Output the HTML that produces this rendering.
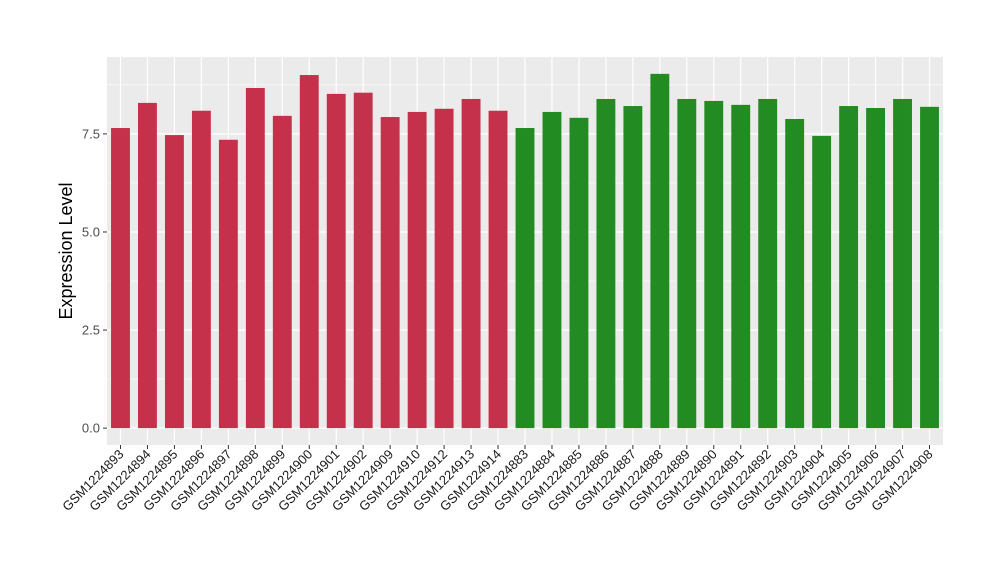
<!DOCTYPE html>
<html><head><meta charset="utf-8"><style>body{margin:0;background:#fff}svg{display:block;font-family:"Liberation Sans",sans-serif}</style></head>
<body>
<svg id="chart" width="1000" height="580"></svg>
<script>
const categories=["GSM1224893","GSM1224894","GSM1224895","GSM1224896","GSM1224897","GSM1224898","GSM1224899","GSM1224900","GSM1224901","GSM1224902","GSM1224909","GSM1224910","GSM1224912","GSM1224913","GSM1224914","GSM1224883","GSM1224884","GSM1224885","GSM1224886","GSM1224887","GSM1224888","GSM1224889","GSM1224890","GSM1224891","GSM1224892","GSM1224903","GSM1224904","GSM1224905","GSM1224906","GSM1224907","GSM1224908"];
const values=[7.65,8.29,7.47,8.09,7.35,8.67,7.96,9.0,8.52,8.55,7.93,8.06,8.14,8.39,8.09,7.65,8.06,7.91,8.39,8.21,9.03,8.39,8.34,8.24,8.39,7.88,7.45,8.21,8.16,8.39,8.19];
const groups=[0,0,0,0,0,0,0,0,0,0,0,0,0,0,0,1,1,1,1,1,1,1,1,1,1,1,1,1,1,1,1];
const yTicks=[0,2.5,5,7.5];
const yTickLabels=["0.0","2.5","5.0","7.5"];
const colors=["#C5304A","#228B22"];
const svg=document.getElementById('chart');
const NS="http://www.w3.org/2000/svg";
const PL=107,PR=943,PT=57,PB=445;
const yMin=-0.43,yMax=9.46;
const y=v=>PB-(v-yMin)/(yMax-yMin)*(PB-PT);
const step=(PR-PL)/categories.length;
const x=i=>PL+step*(i+0.5);
const bw=step*0.7;
function mk(t,a){const e=document.createElementNS(NS,t);for(const k in a)e.setAttribute(k,a[k]);svg.appendChild(e);return e;}
const panel=mk('rect',{x:PL,y:PT,width:PR-PL,height:PB-PT,fill:'#EBEBEB'});


for(let i=0;i<yTicks.length-1+1;i++){const m=yTicks[i]+1.25;if(m<yMax){const g=mk('line',{x1:PL,x2:PR,y1:y(m),y2:y(m),stroke:'#fff','stroke-width':0.6});}}
yTicks.forEach((t,i)=>{
 const g=mk('line',{x1:PL,x2:PR,y1:y(t),y2:y(t),stroke:'#fff','stroke-width':1.2});
 
 
 const tk=mk('line',{x1:PL-4,x2:PL,y1:y(t),y2:y(t),stroke:'#333','stroke-width':1});
 
 
 const l=mk('text',{x:PL-7,y:y(t)+4.5,'text-anchor':'end','font-size':13,fill:'#4D4D4D'});
 l.textContent=yTickLabels[i];
 
 
});
categories.forEach((c,i)=>{
 const g=mk('line',{x1:x(i),x2:x(i),y1:PT,y2:PB,stroke:'#fff','stroke-width':1.2});
 
 
});
categories.forEach((c,i)=>{
 const b=mk('rect',{x:x(i)-bw/2,y:y(values[i]),width:bw,height:y(0)-y(values[i]),fill:colors[groups[i]]});
 
 
 const tk=mk('line',{x1:x(i),x2:x(i),y1:PB,y2:PB+4,stroke:'#333','stroke-width':1});
 
 
 const l=mk('text',{x:x(i)+4,y:PB+10,'text-anchor':'end','font-size':13,fill:'#1A1A1A',transform:`rotate(-45 ${x(i)+4} ${PB+10})`});
 l.textContent=c;
 
 
});
const t=mk('text',{x:72,y:(PT+PB)/2,'text-anchor':'middle','font-size':18,fill:'#000',transform:`rotate(-90 72 ${(PT+PB)/2})`});
t.textContent="Expression Level";


</script>
</body></html>
